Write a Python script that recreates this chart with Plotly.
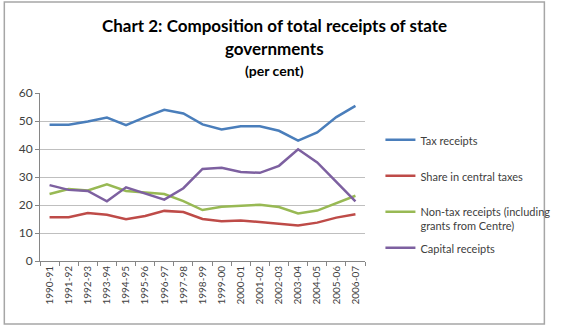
import plotly.graph_objects as go

years = ["1990-91", "1991-92", "1992-93", "1993-94", "1994-95", "1995-96",
         "1996-97", "1997-98", "1998-99", "1999-00", "2000-01", "2001-02",
         "2002-03", "2003-04", "2004-05", "2005-06", "2006-07"]

tax_receipts = [48.7, 48.7, 49.8, 51.2, 48.5, 51.4, 54.0, 52.7, 48.8, 47.0,
                48.1, 48.1, 46.5, 43.0, 45.9, 51.4, 55.4]
central_share = [15.6, 15.6, 17.1, 16.5, 14.9, 16.1, 17.9, 17.5, 15.0, 14.2,
                 14.5, 13.9, 13.3, 12.7, 13.7, 15.5, 16.7]
non_tax = [23.9, 25.7, 25.2, 27.4, 25.0, 24.5, 23.9, 21.4, 18.2, 19.4,
           19.8, 20.1, 19.3, 17.0, 18.0, 20.6, 23.3]
capital = [27.1, 25.4, 25.0, 21.3, 26.3, 24.2, 21.9, 26.0, 32.9, 33.3,
           31.8, 31.5, 34.0, 39.9, 35.2, 28.3, 21.3]

series = [
    ("Tax receipts", tax_receipts, "#4A7EBB", "legend"),
    ("Share in central taxes", central_share, "#BE4B48", "legend"),
    ("Non-tax receipts (including<br>grants from Centre)", non_tax, "#98B954", "legend"),
    ("Capital receipts", capital, "#7D60A0", "legend2"),
]

title_lines = [
    ("Chart 2: Composition of total receipts of state", 17, 25),
    ("governments", 17, 48),
    ("(per cent)", 14, 70),
]

FONT = "Lato"
TXT = "#404040"

fig = go.Figure()
for i, (name, vals, color, leg) in enumerate(series):
    fig.add_trace(go.Scatter(
        x=years, y=vals, name=name, mode="lines",
        line=dict(color=color, width=2.5),
        legendgroup=f"g{i}", legend=leg,
    ))

W, H = 567, 327
L, R, T, B = 40, 190, 93, 66
pw, ph = W - L - R, H - T - B

def px_x(p):
    return (p - L) / pw

def px_y(p):
    return 1 - (p - T) / ph

legend_style = dict(
    xanchor="left", yanchor="top",
    font=dict(size=11, color=TXT), tracegroupgap=17,
    valign="top", bgcolor="rgba(0,0,0,0)",
)

fig.update_layout(
    width=W, height=H,
    margin=dict(l=L, r=R, t=T, b=B),
    paper_bgcolor="white", plot_bgcolor="white",
    font=dict(family=FONT, color=TXT, size=11),
    xaxis=dict(
        type="category", tickangle=-90, tickson="boundaries",
        ticks="outside", ticklen=4, tickcolor="#868686",
        showline=True, linecolor="#868686", linewidth=1,
        showgrid=False, tickfont=dict(size=10, color=TXT),
        range=[-0.5, len(years) - 0.5],
    ),
    yaxis=dict(
        range=[0, 60], dtick=10, ticks="outside", ticklen=4,
        tickcolor="#868686", showline=True, linecolor="#868686",
        linewidth=1, gridcolor="#BFBFBF", gridwidth=1,
        tickfont=dict(size=12, color=TXT), zeroline=False,
    ),
    legend=dict(x=px_x(393), y=px_y(126), **legend_style),
    legend2=dict(x=px_x(393), y=px_y(234), **legend_style),
    showlegend=True,
)

# title, one annotation per line
for text, size, ypix in title_lines:
    fig.add_annotation(
        text=f"<b>{text}</b>", xref="paper", yref="paper",
        x=px_x(W / 2), y=px_y(ypix), xanchor="center", yanchor="middle",
        showarrow=False, font=dict(family=FONT, size=size, color="#000000"),
    )

# chart frame
fig.add_shape(type="rect", xref="paper", yref="paper",
              x0=px_x(3), x1=px_x(563), y0=px_y(324), y1=px_y(2),
              line=dict(color="#A6A6A6", width=1.5), layer="above")

fig.write_html("out.html")
